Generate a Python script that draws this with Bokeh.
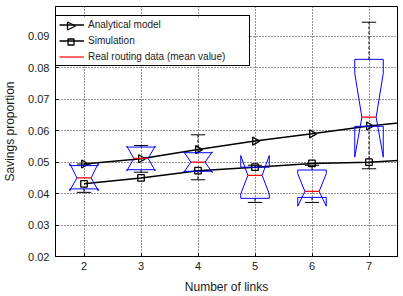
import numpy as np
from bokeh.plotting import figure
from bokeh.models import (Legend, LegendItem, FixedTicker, PrintfTickFormatter,
                          Range1d, PolyAnnotation)
from bokeh.embed import file_html
from bokeh.resources import INLINE

# ---- data ----
links = [2, 3, 4, 5, 6, 7]
line_links = [2, 3, 4, 5, 6, 7, 8]
analytical = [0.0494, 0.0511, 0.0540, 0.0567, 0.0590, 0.0615, 0.0634]
simulation = [0.0431, 0.0450, 0.0473, 0.0484, 0.0496, 0.0500, 0.0510]

# real routing data, notched box plots
box_q1 = [0.0415, 0.0476, 0.0471, 0.0385, 0.0388, 0.0614]
box_q3 = [0.0489, 0.0548, 0.0530, 0.0484, 0.0475, 0.0827]
box_med = [0.0450, 0.0512, 0.0500, 0.0458, 0.0407, 0.0643]
notch_lo = [0.0409, 0.0472, 0.0467, 0.0399, 0.0360, 0.0516]
notch_hi = [0.0496, 0.0551, 0.0533, 0.0521, 0.0463, 0.0782]
whisk_lo = [0.0404, 0.0468, 0.0444, 0.0372, 0.0372, 0.0479]
whisk_hi = [0.0494, 0.0553, 0.0587, 0.0490, 0.0490, 0.0945]

x_ticks = [2, 3, 4, 5, 6, 7]
y_ticks = [0.02, 0.03, 0.04, 0.05, 0.06, 0.07, 0.08, 0.09]

# ---- style constants ----
HALF_W = 0.25      # half box width
NOTCH_W = 0.125    # half width at the median
FONT = "Liberation Sans"
BLUE = "#0000FF"
RED = "#FF0000"

p = figure(width=403, height=296, output_backend="svg", toolbar_location=None,
           x_range=Range1d(1.5, 7.5), y_range=Range1d(0.02, 0.0995),
           min_border_left=53, min_border_right=6, min_border_top=6,
           min_border_bottom=40, background_fill_color="white",
           border_fill_color="white")
p.outline_line_color = "black"
p.outline_line_width = 1
p.outline_line_alpha = 1

# grid
for g in (p.xgrid, p.ygrid):
    g.grid_line_color = "black"
    g.grid_line_dash = "1 2"
    g.grid_line_alpha = 0.85
    g.grid_line_width = 1
p.xgrid.ticker = FixedTicker(ticks=x_ticks)
p.ygrid.ticker = FixedTicker(ticks=y_ticks)

# axes
p.xaxis.ticker = FixedTicker(ticks=x_ticks)
p.yaxis.ticker = FixedTicker(ticks=y_ticks)
p.yaxis.formatter = PrintfTickFormatter(format="%.2f")
for ax in (p.xaxis[0], p.yaxis[0]):
    ax.axis_line_color = "black"
    ax.major_tick_in = 3
    ax.major_tick_out = 0
    ax.minor_tick_line_color = None
    ax.major_tick_line_color = "black"
    ax.major_label_text_font = FONT
    ax.major_label_text_font_size = "11px"
    ax.major_label_text_color = "#1a1a1a"
    ax.axis_label_text_font = FONT
    ax.axis_label_text_font_size = "12px"
    ax.axis_label_text_font_style = "normal"
    ax.axis_label_text_color = "#1a1a1a"
p.xaxis.axis_label = "Number of links"
p.yaxis.axis_label = "Savings proportion"
p.xaxis.major_label_standoff = 5
p.xaxis.axis_label_standoff = 7
p.yaxis.major_label_standoff = 6
p.yaxis.axis_label_standoff = 8

# model lines
la = p.line(line_links, analytical, line_color="black", line_width=1.5)
sa = p.scatter(line_links, analytical, marker="triangle", angle=-np.pi / 2,
               size=8, fill_color=None, line_color="black", line_width=1.3)
ls = p.line(line_links, simulation, line_color="black", line_width=1.5)
ss = p.scatter(line_links, simulation, marker="square", size=6.5,
               fill_color=None, line_color="black", line_width=1.3)

# whiskers
p.segment(x0=links, y0=box_q3, x1=links, y1=whisk_hi, line_color="black",
          line_dash="3 2", line_width=1)
p.segment(x0=links, y0=box_q1, x1=links, y1=whisk_lo, line_color="black",
          line_dash="3 2", line_width=1)
xl = [x - NOTCH_W for x in links]
xr = [x + NOTCH_W for x in links]
p.segment(x0=xl, y0=whisk_hi, x1=xr, y1=whisk_hi, line_color="black", line_width=1)
p.segment(x0=xl, y0=whisk_lo, x1=xr, y1=whisk_lo, line_color="black", line_width=1)

# notched boxes
xs, ys = [], []
for x, a, b, m, nl, nh in zip(links, box_q1, box_q3, box_med, notch_lo, notch_hi):
    L, R = x - HALF_W, x + HALF_W
    xs.append([L, L, x - NOTCH_W, L, L, R, R, x + NOTCH_W, R, R, L])
    ys.append([a, nl, m, nh, b, b, nh, m, nl, a, a])
p.multi_line(xs, ys, line_color=BLUE, line_width=1)
med = p.segment(x0=xl, y0=box_med, x1=xr, y1=box_med, line_color=RED, line_width=1.2)

# legend background (frame-relative pixels, y measured from frame bottom)
bg = PolyAnnotation(xs=[0, 193, 193, 0], ys=[190, 190, 239, 239],
                    xs_units="screen", ys_units="screen", fill_color="white",
                    fill_alpha=1, line_color=None)
p.add_layout(bg)

# legend markers (right-pointing triangle and square)
cx, r1, r2 = 15.5, 230.5, 214.5
tri = PolyAnnotation(xs=[cx - 3.5, cx - 3.5, cx + 4.5], ys=[r1 - 4, r1 + 4, r1],
                     xs_units="screen", ys_units="screen", fill_color="white",
                     fill_alpha=1, line_color="black", line_alpha=1, line_width=1.3)
sq = PolyAnnotation(xs=[cx - 3, cx + 3, cx + 3, cx - 3], ys=[r2 - 3, r2 - 3, r2 + 3, r2 + 3],
                    xs_units="screen", ys_units="screen", fill_color="white",
                    fill_alpha=1, line_color="black", line_alpha=1, line_width=1.3)
p.add_layout(tri)
p.add_layout(sq)

legend = Legend(items=[
    LegendItem(label="Analytical model", renderers=[la]),
    LegendItem(label="Simulation", renderers=[ls]),
    LegendItem(label="Real routing data (mean value)", renderers=[med]),
], location=(0, 190))
legend.padding = 3
legend.spacing = 5
legend.margin = 0
legend.glyph_height = 11
legend.label_height = 11
legend.glyph_width = 25
legend.label_standoff = 4
legend.label_width = 158
legend.label_text_font = FONT
legend.label_text_font_size = "10px"
legend.label_text_color = "#1a1a1a"
legend.border_line_color = "black"
legend.border_line_width = 1
legend.border_line_alpha = 1
legend.background_fill_alpha = 0
p.add_layout(legend)

open("out.html", "w").write(file_html(p, INLINE))
